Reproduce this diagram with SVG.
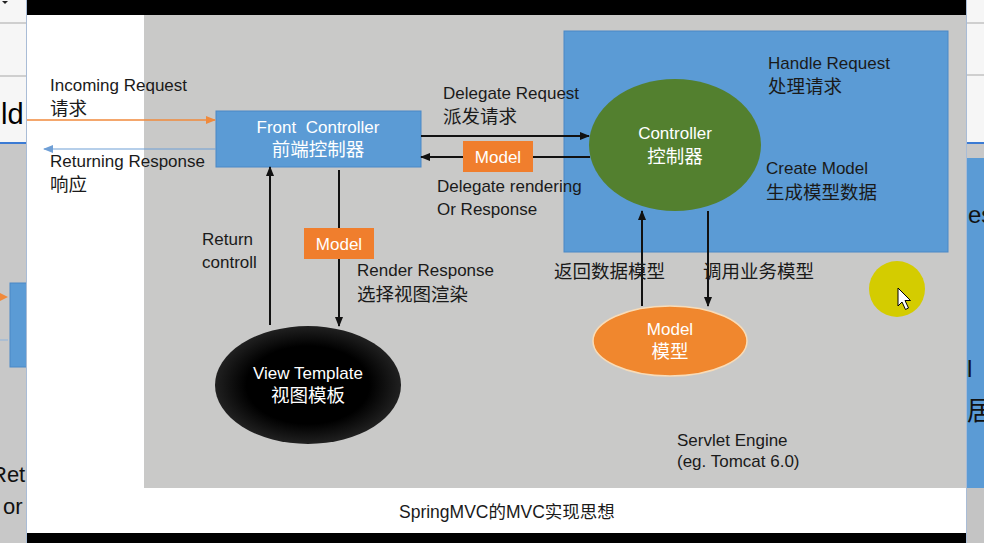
<svg xmlns="http://www.w3.org/2000/svg" width="984" height="543" viewBox="0 0 984 543">
<defs>
<style>
.t{font-family:"Liberation Sans","Noto Sans CJK SC",sans-serif;font-size:17px;fill:#1a1a1a}
.c{font-family:"Noto Sans CJK SC","Liberation Sans",sans-serif;font-size:18.5px;fill:#1a1a1a}
.w{fill:#ffffff}
.m{text-anchor:middle}
.ln{stroke:#111;stroke-width:2;fill:none}
.box{fill:#5b9bd5;stroke:#4a88c6;stroke-width:1}
.mod{fill:#f07e2d}
.edge{font-family:"Liberation Sans",sans-serif;font-size:22px;fill:#111}
</style>
<marker id="ah" markerWidth="10" markerHeight="8" refX="9" refY="4" orient="auto" markerUnits="userSpaceOnUse"><path d="M0,0 L10,4 L0,8 z" fill="#111"/></marker>
<marker id="aho" markerWidth="10" markerHeight="8" refX="9" refY="4" orient="auto" markerUnits="userSpaceOnUse"><path d="M0,0 L10,4 L0,8 z" fill="#f08a3c"/></marker>
<marker id="ahb" markerWidth="10" markerHeight="8" refX="9" refY="4" orient="auto" markerUnits="userSpaceOnUse"><path d="M0,0 L10,4 L0,8 z" fill="#6f9fd6"/></marker>
<radialGradient id="blk" cx="0.5" cy="0.5" r="0.55">
<stop offset="0.6" stop-color="#000"/>
<stop offset="1" stop-color="#2a2a2a"/>
</radialGradient>
</defs>

<!-- left background window strip -->
<g id="left-strip">
<rect x="0" y="0" width="27" height="143" fill="#f6f6f6"/>
<line x1="0" y1="23" x2="27" y2="23" stroke="#a8a8a8" stroke-width="1"/>
<line x1="0" y1="76" x2="27" y2="76" stroke="#a8a8a8" stroke-width="1"/>
<path d="M2,1 L8,1 L5,4 z" fill="#222"/>
<text x="1" y="124" style="font-family:'Liberation Sans',sans-serif;font-size:29px;fill:#000">ld</text>
<line x1="0" y1="143" x2="27" y2="143" stroke="#3b7bd4" stroke-width="2"/>
<rect x="0" y="144" width="27" height="399" fill="#c8c8c8"/>
<rect x="10" y="283" width="17" height="84" fill="#5b9bd5" stroke="#4a88c6" stroke-width="1"/>
<path d="M0,293 L8,297 L0,301 z" fill="#f08a3c"/>
<line x1="0" y1="340" x2="8" y2="340" stroke="#8fb4dc" stroke-width="1"/>
<text class="edge" x="-9" y="482">Ret</text>
<text class="edge" x="3" y="514">or</text>
<line x1="26.5" y1="0" x2="26.5" y2="543" stroke="#a9bcd6" stroke-width="1"/>
</g>

<!-- right background window strip -->
<g id="right-strip">
<rect x="967" y="0" width="17" height="143" fill="#f6f6f6"/>
<line x1="967" y1="23" x2="984" y2="23" stroke="#a8a8a8" stroke-width="1"/>
<line x1="967" y1="75" x2="984" y2="75" stroke="#a8a8a8" stroke-width="1"/>
<rect x="967" y="144" width="17" height="14" fill="#c8c8c8"/>
<line x1="967" y1="143" x2="984" y2="143" stroke="#3b7bd4" stroke-width="2"/>
<rect x="967" y="158" width="17" height="330" fill="#5b9bd5"/>
<rect x="967" y="488" width="17" height="55" fill="#c4c4c4"/>
<text x="968" y="223" style="font-family:'Liberation Sans',sans-serif;font-size:24px;fill:#111">es</text>
<text x="967" y="377" style="font-family:'Liberation Sans',sans-serif;font-size:24px;fill:#111">l</text>
<text x="967" y="420" style="font-family:'Noto Sans CJK SC',sans-serif;font-size:26px;fill:#111">居</text>
<line x1="966.5" y1="0" x2="966.5" y2="543" stroke="#a9bcd6" stroke-width="1"/>
</g>

<!-- slide -->
<g id="slide">
<rect x="27" y="0" width="939" height="15" fill="#000"/>
<rect x="27" y="15" width="939" height="518" fill="#ffffff"/>
<rect x="27" y="533" width="939" height="10" fill="#000"/>
<rect x="144" y="15" width="822" height="473" fill="#c9c9c8"/>
</g>

<g id="controller-area">
<rect x="564" y="31" width="384" height="221" class="box"/>
<text class="t" x="768" y="69">Handle Request</text>
<text class="c" x="768" y="93">处理请求</text>
<text class="t" x="766" y="174">Create Model</text>
<text class="c" x="766" y="199">生成模型数据</text>
</g>

<g id="controller">
<ellipse cx="675" cy="145" rx="86" ry="66" fill="#53802f"/>
<text class="t w m" x="675" y="139">Controller</text>
<text class="c w m" x="675" y="163">控制器</text>
</g>

<g id="front-controller">
<rect x="216" y="111" width="205" height="56" class="box"/>
<text class="t w m" x="318" y="133" style="white-space:pre">Front  Controller</text>
<text class="c w m" x="318" y="156">前端控制器</text>
</g>

<g id="view-template">
<ellipse cx="308" cy="385" rx="93" ry="59" fill="url(#blk)"/>
<text class="t w m" x="308" y="379">View Template</text>
<text class="c w m" x="308" y="402">视图模板</text>
</g>

<g id="model">
<ellipse cx="670" cy="341" rx="77" ry="35" fill="#f0872e" stroke="#f8dcb8" stroke-width="1.5"/>
<text class="t w m" x="670" y="335">Model</text>
<text class="c w m" x="670" y="358">模型</text>
</g>

<g id="connectors">
<line x1="27" y1="120" x2="215" y2="120" stroke="#f08a3c" stroke-width="1.5" marker-end="url(#aho)"/>
<line x1="216" y1="149" x2="44" y2="149" stroke="#6f9fd6" stroke-width="1.2" marker-end="url(#ahb)"/>
<line x1="421" y1="136" x2="589" y2="136" class="ln" marker-end="url(#ah)"/>
<line x1="590" y1="157" x2="421" y2="157" class="ln" marker-end="url(#ah)"/>
<line x1="270" y1="325" x2="270" y2="167" class="ln" marker-end="url(#ah)"/>
<line x1="339" y1="170" x2="339" y2="326" class="ln" marker-end="url(#ah)"/>
<line x1="642" y1="306" x2="642" y2="211" class="ln" marker-end="url(#ah)"/>
<line x1="708" y1="211" x2="708" y2="306" class="ln" marker-end="url(#ah)"/>
</g>

<g id="model-tag-1">
<rect x="463" y="141" width="70" height="31" class="mod"/>
<text class="t w m" x="498" y="163">Model</text>
</g>
<g id="model-tag-2">
<rect x="304" y="228" width="70" height="31" class="mod"/>
<text class="t w m" x="339" y="250">Model</text>
</g>

<g id="labels">
<text class="t" x="50" y="91">Incoming Request</text>
<text class="c" x="50" y="115">请求</text>
<text class="t" x="50" y="167">Returning Response</text>
<text class="c" x="50" y="191">响应</text>
<text class="t" x="443" y="99">Delegate Request</text>
<text class="c" x="443" y="123">派发请求</text>
<text class="t" x="437" y="192">Delegate rendering</text>
<text class="t" x="437" y="215">Or Response</text>
<text class="t" x="202" y="245">Return</text>
<text class="t" x="202" y="268">controll</text>
<text class="t" x="357" y="276">Render Response</text>
<text class="c" x="357" y="301">选择视图渲染</text>
<text class="c" x="554" y="278">返回数据模型</text>
<text class="c" x="703" y="278">调用业务模型</text>
<text class="t" x="677" y="446">Servlet Engine</text>
<text class="t" x="677" y="467">(eg. Tomcat 6.0)</text>
<text class="t" x="399" y="518" style="font-size:17.5px">SpringMVC的MVC实现思想</text>
</g>

<g id="cursor">
<circle cx="897" cy="289" r="28" fill="#d4cc00"/>
<path d="M898,288 L898,306 L902,302 L905.5,309.5 L908.5,308 L905,300.5 L910.5,300.5 z" fill="#fff" stroke="#000" stroke-width="1"/>
</g>
</svg>
